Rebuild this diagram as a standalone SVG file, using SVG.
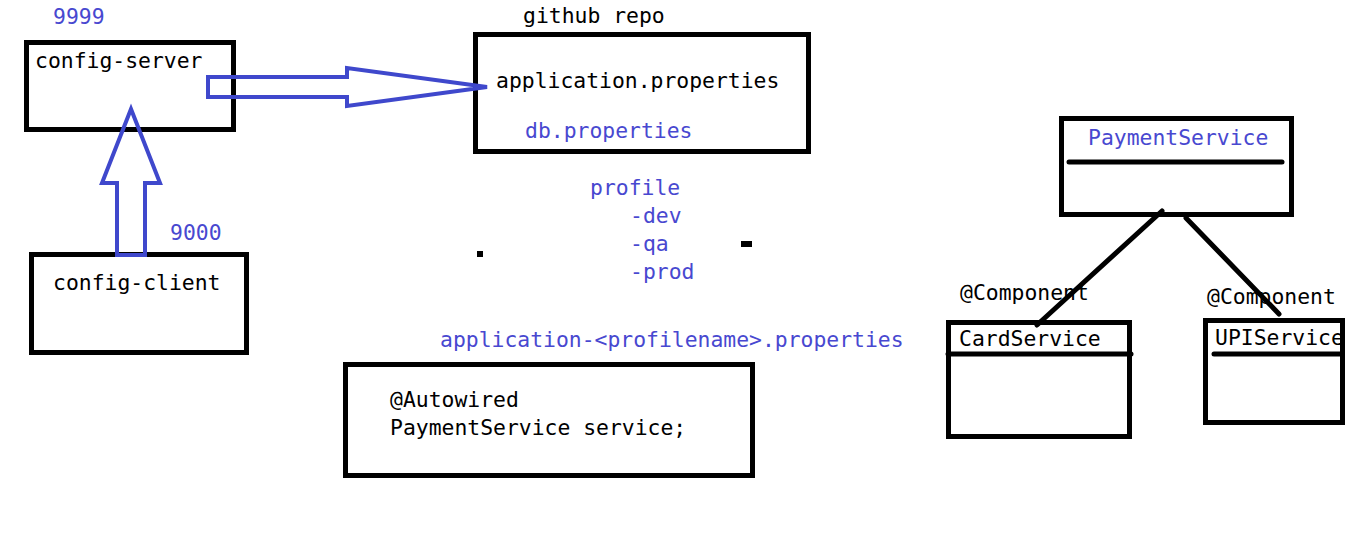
<svg xmlns="http://www.w3.org/2000/svg" width="1349" height="544" viewBox="0 0 1349 544">
<style>
text{font-family:"DejaVu Sans Mono","Liberation Mono",monospace;font-size:21.4px;fill:#000}
.b{fill:#4848d0}
.box{fill:none;stroke:#000;stroke-width:5}
.ln{stroke:#000;stroke-width:5;stroke-linecap:round;fill:none}
.arr{fill:none;stroke:#3f48cc;stroke-width:4;stroke-linejoin:miter}
</style>
<rect width="1349" height="544" fill="#fff"/>
<g id="config-server">
<text class="b" x="53" y="24">9999</text>
<rect class="box" x="26.5" y="42.5" width="207" height="87"/>
<text x="35" y="68">config-server</text>
</g>
<g id="config-client">
<text class="b" x="170" y="240">9000</text>
<rect class="box" x="31.5" y="254.5" width="215" height="98"/>
<text x="53" y="290">config-client</text>
</g>
<g id="github-repo">
<text x="523" y="23">github repo</text>
<rect class="box" x="475.5" y="34.5" width="333" height="117"/>
<text x="496" y="88">application.properties</text>
<text class="b" x="525" y="138">db.properties</text>
</g>
<g id="profiles">
<text class="b" x="590" y="195">profile</text>
<text class="b" x="630" y="223">-dev</text>
<text class="b" x="630" y="251">-qa</text>
<text class="b" x="630" y="279">-prod</text>
<rect x="477" y="251" width="6" height="6" fill="#000"/>
<rect x="741" y="241" width="11" height="6" fill="#000"/>
<text class="b" x="440" y="347">application-&lt;profilename&gt;.properties</text>
</g>
<g id="autowired">
<rect class="box" x="345.5" y="364.5" width="407" height="111"/>
<text x="390" y="407">@Autowired</text>
<text x="390" y="435">PaymentService service;</text>
</g>
<g id="payment-service">
<rect class="box" x="1061.5" y="118.5" width="230" height="96"/>
<text class="b" x="1088" y="145">PaymentService</text>
<line class="ln" x1="1069" y1="162" x2="1282" y2="162"/>
</g>
<g id="card-service">
<text x="960" y="300">@Component</text>
<rect class="box" x="948.5" y="322.5" width="181" height="114"/>
<text x="959" y="346">CardService</text>
<line class="ln" x1="948" y1="354" x2="1131" y2="354"/>
</g>
<g id="upi-service">
<text x="1207" y="304">@Component</text>
<text x="1215" y="345">UPIService</text>
<rect class="box" x="1205.5" y="320.5" width="137" height="102"/>
<line class="ln" x1="1214" y1="354" x2="1341" y2="354"/>
</g>
<g id="connectors">
<polygon class="arr" points="208,77 347,77 347,68 487,87 347,106 347,97 208,97"/>
<polygon class="arr" points="117,255 117,183 102,183 131,109 160,183 145,183 145,255"/>
<line class="ln" x1="1162" y1="211" x2="1037" y2="325"/>
<line class="ln" x1="1186" y1="218" x2="1279" y2="314"/>
</g>
</svg>
